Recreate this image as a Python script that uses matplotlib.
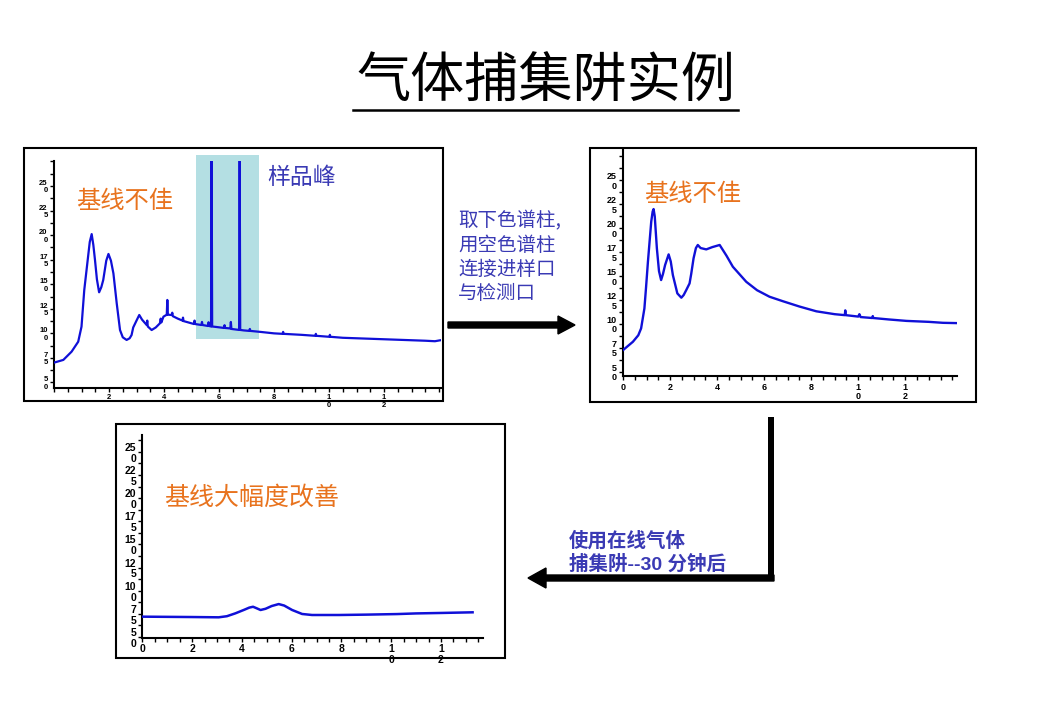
import matplotlib
matplotlib.use("Agg")
import matplotlib.pyplot as plt
from matplotlib.patches import Rectangle, FancyArrow
from matplotlib.ticker import MultipleLocator

plt.rcParams['font.family'] = ['Noto Sans CJK SC', 'DejaVu Sans']

# --- data (time in min, signal) ---
p1_time = [0.0, 0.34, 0.64, 0.88, 1.0, 1.1, 1.21, 1.3, 1.37, 1.43, 1.49, 1.56, 1.64, 1.72,
           1.79, 1.9, 1.98, 2.07, 2.16, 2.28, 2.4, 2.5, 2.64, 2.75, 2.82, 2.88, 3.0, 3.1,
           3.2, 3.37, 3.39, 3.41, 3.55, 3.7, 3.85, 3.88, 3.9, 3.98, 4.1, 4.12, 4.14, 4.28,
           4.3, 4.32, 4.5, 4.67, 4.69, 4.71, 4.9,
           5.09, 5.11, 5.13, 5.36, 5.38, 5.4, 5.6, 5.62, 5.64, 5.71, 5.73, 5.75, 5.9, 6.18,
           6.2, 6.22, 6.41, 6.43, 6.45, 6.73, 6.75, 6.77, 6.9, 7.1, 7.12, 7.14, 7.5, 8.0,
           8.31, 8.33, 8.35, 9.0, 9.5, 9.52, 9.54, 10.01, 10.03, 10.05, 10.5, 11.0, 11.5,
           12.0, 12.5, 13.0, 13.5, 13.85, 14.05]
p1_signal = [70.2, 73, 81.4, 91.5, 106.8, 144, 171, 193, 201, 190, 174.7, 155, 141.8, 147,
             154.3, 174, 180.8, 174, 161, 130.6, 103.4, 96, 93.3, 95, 98.3, 106, 113, 118.7,
             114, 108.5, 113, 107, 103.4, 106, 110.2, 115, 111, 117, 119, 134, 119, 118.7,
             121, 117.5, 115, 113, 116, 112.5, 111,
             109.5, 113, 109.5, 108.5, 111.6, 108.5, 107.5, 111.3, 107.5, 107, 290, 107, 106.5, 105.5,
             108.3, 105.5, 105, 111.6, 104.5, 103.5, 290, 103.5, 103, 102.5, 104.5, 102.5, 101.5, 100,
             99.5, 101.5, 99.5, 98.5, 97.5, 99.5, 97.5, 96.5, 98.5, 96.5, 95.5, 95, 94.5,
             94, 93.5, 93, 92.5, 92, 93]

p2_time = [0.0, 0.42, 0.65, 0.77, 0.91, 0.98, 1.06, 1.2, 1.26, 1.3, 1.35, 1.44, 1.53, 1.62,
           1.7, 1.79, 1.94, 2.03, 2.12, 2.31, 2.48, 2.58, 2.69, 2.83, 2.9, 3.0, 3.1, 3.18,
           3.3, 3.54, 3.8, 4.11, 4.4, 4.67, 5.24, 5.7, 6.23, 6.8, 7.5, 8.22, 9.0, 9.43,
           9.45, 9.47, 10.0, 10.05, 10.1, 10.6, 10.62, 10.64, 11.3, 12.05, 13.0, 13.6, 14.18]
p2_signal = [72.5, 81.2, 88, 95.2, 116, 138, 164.7, 206.5, 217, 219.7, 212, 178.7, 155, 145.6,
             152, 161.3, 172.4, 165, 150.8, 131.7, 127.2, 130, 135.2, 142.1, 152, 168.3, 179, 182.2,
             179, 177.6, 180, 182.2, 171, 159.5, 143.8, 135, 128.2, 123.5, 118, 113, 110, 109,
             114, 109, 107.5, 110, 107, 106, 108, 106, 104.5, 103, 102, 101, 100.7]

p3_time = [0.0, 1.0, 2.0, 3.07, 3.4, 3.74, 4.1, 4.3, 4.45, 4.6, 4.75, 4.95, 5.2, 5.48,
           5.7, 6.02, 6.42, 6.82, 7.9, 9.0, 10.23, 11.0, 12.0, 13.27]
p3_signal = [72, 71.8, 71.6, 71.3, 72.5, 75.6, 79.5, 81.8, 82.7, 81, 79.2, 80.5, 83.5, 85.6,
             84, 79.2, 74.9, 73.8, 73.8, 74.2, 74.8, 75.5, 76, 76.7]

y_ticks = [250, 225, 200, 175, 150, 125, 100, 75, 50]
y_labels = ["25\n0", "22\n5", "20\n0", "17\n5", "15\n0", "12\n5", "10\n0", "7\n5", "5\n0"]
x_ticks = [0, 2, 4, 6, 8, 10, 12]
x_labels = ["0", "2", "4", "6", "8", "1\n0", "1\n2"]

W, H = 1040, 720
LINE = '#1010d8'
ORANGE = '#e8731e'
TXTBLUE = '#3a3ab4'

fig = plt.figure(figsize=(W / 100, H / 100), dpi=100)


def add_panel(left, right, top, bottom, xlim, ylim, t, s, fs, show_zero, lw):
    ax = fig.add_axes([left / W, 1 - bottom / H, (right - left) / W, (bottom - top) / H])
    ax.plot(t, s, color=LINE, lw=lw, zorder=3, solid_joinstyle='round')
    ax.set_xlim(*xlim)
    ax.set_ylim(*ylim)
    for sp in ['top', 'right']:
        ax.spines[sp].set_visible(False)
    for sp in ['left', 'bottom']:
        ax.spines[sp].set_linewidth(1.5)
    ax.patch.set_alpha(0)
    ax.set_yticks(y_ticks)
    ax.set_yticklabels(y_labels, linespacing=1.1)
    if show_zero:
        ax.set_xticks(x_ticks)
        ax.set_xticklabels(x_labels, linespacing=1.1)
    else:
        ax.set_xticks(x_ticks[1:])
        ax.set_xticklabels(x_labels[1:], linespacing=1.1)
    ax.xaxis.set_minor_locator(MultipleLocator(0.5))
    ax.yaxis.set_minor_locator(MultipleLocator(12.5))
    ax.tick_params(which='both', length=3, width=1, pad=1.5)
    for lab in ax.get_xticklabels() + ax.get_yticklabels():
        lab.set_fontfamily('Liberation Sans')
        lab.set_fontweight('bold')
        lab.set_fontsize(fs)
    return ax


ax1 = add_panel(54, 441, 160.7, 388, (0, 14.07), (44.4, 275.7), p1_time, p1_signal, 5.5, False, 1.6)
ax1.add_patch(Rectangle((5.15, 94.6), 2.3, 187.3, facecolor='#b4dfe3', edgecolor='none',
                        zorder=1, clip_on=False))
ax2 = add_panel(623, 957, 149.7, 376.3, (0, 14.2), (45.2, 281.6), p2_time, p2_signal, 6.5, True, 1.7)
ax3 = add_panel(142.3, 483.3, 434.7, 637.5, (0, 13.7), (49.5, 268.5), p3_time, p3_signal, 7.5, True, 1.8)

# overlay in pixel coordinates for boxes, arrows and text
ov = fig.add_axes([0, 0, 1, 1], zorder=10)
ov.set_xlim(0, W)
ov.set_ylim(H, 0)
ov.axis('off')

for (x0, y0, x1, y1) in [(24, 148, 443, 401), (590, 148, 976, 402), (116, 424, 505, 658)]:
    ov.add_patch(Rectangle((x0, y0), x1 - x0, y1 - y0, fill=False, edgecolor='black', lw=1.5))

ov.text(545.5, 82, "气体捕集阱实例", ha='center', va='center', fontsize=39, color='black',
        fontweight='light')
ov.plot([353, 738], [110, 110], color='black', lw=1.8)

ov.text(125, 201, "基线不佳", ha='center', va='center', fontsize=17.5, color=ORANGE)
ov.text(302, 177, "样品峰", ha='center', va='center', fontsize=16.5, color=TXTBLUE)
ov.text(692.5, 194, "基线不佳", ha='center', va='center', fontsize=17.5, color=ORANGE)
ov.text(251.7, 498, "基线大幅度改善", ha='center', va='center', fontsize=18, color=ORANGE)

ov.text(458, 257.5, "取下色谱柱,\n用空色谱柱\n连接进样口\n与检测口", ha='left', va='center',
        fontsize=14, color=TXTBLUE, linespacing=1.2)
ov.text(569, 552.5, "使用在线气体\n捕集阱--30 分钟后", ha='left', va='center',
        fontsize=14, color=TXTBLUE, linespacing=1.25, fontweight='bold',
        family=['Liberation Sans', 'Noto Sans CJK SC'])

ov.add_patch(FancyArrow(448, 325, 127, 0, width=6, head_width=18, head_length=17,
                        length_includes_head=True, color='black'))
ov.add_patch(Rectangle((768, 417), 6, 164, facecolor='black', edgecolor='none'))
ov.add_patch(FancyArrow(774, 578, -246, 0, width=6, head_width=20, head_length=18,
                        length_includes_head=True, color='black'))

fig.savefig("out.png", dpi=100)
